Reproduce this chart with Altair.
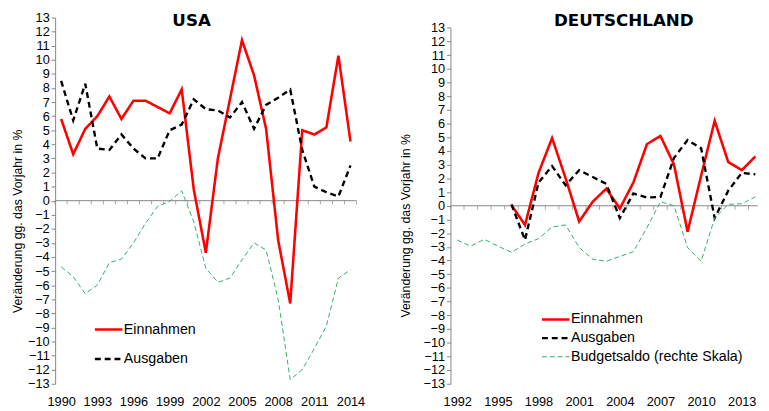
import altair as alt
import pandas as pd

# ---------------- data ----------------
usa_years = list(range(1990, 2015))
usa_einnahmen = [5.8, 3.3, 5.1, 6.0, 7.4, 5.8, 7.1, 7.1, 6.65, 6.2, 7.9, 0.8, -3.7, 3.0, 7.2,
                 11.4, 8.9, 5.1, -2.8, -7.3, 5.0, 4.7, 5.2, 10.3, 4.2]
usa_ausgaben = [8.5, 5.7, 8.3, 3.7, 3.6, 4.7, 3.7, 3.0, 3.0, 5.0, 5.4, 7.2, 6.5, 6.4, 5.9,
                7.0, 5.1, 6.8, 7.3, 7.9, 3.6, 1.0, 0.6, 0.3, 2.5]
usa_saldo = [-4.7, -5.4, -6.6, -6.0, -4.4, -4.15, -3.0, -1.6, -0.4, -0.05, 0.7, -1.5, -4.8, -5.8, -5.5,
             -4.2, -3.0, -3.5, -7.0, -12.7, -12.0, -10.5, -8.9, -5.5, -4.9]

de_years = list(range(1992, 2015))
de_einnahmen = [None, None, None, None, 0.05, -1.4, 2.4, 4.95, 2.0, -1.15, 0.3, 1.25, -0.2,
                1.7, 4.5, 5.1, 3.0, -1.9, 2.2, 6.2, 3.2, 2.6, 3.6]
de_ausgaben = [None, None, None, None, 0.1, -2.5, 1.7, 2.9, 1.5, 2.6, 2.1, 1.6, -0.9,
               0.9, 0.6, 0.65, 3.5, 4.8, 4.2, -0.9, 1.1, 2.4, 2.3]
de_saldo = [-2.5, -2.95, -2.45, -2.95, -3.4, -2.8, -2.4, -1.55, -1.4, -3.05, -3.9, -4.05, -3.7,
            -3.35, -1.6, 0.3, 0.0, -3.05, -4.05, -0.9, 0.1, 0.15, 0.65]

usa_x_labels = [1990, 1993, 1996, 1999, 2002, 2005, 2008, 2011, 2014]
de_x_labels = [1992, 1995, 1998, 2001, 2004, 2007, 2010, 2013]
y_ticks = list(range(-13, 14))

series_usa = ["Einnahmen", "Ausgaben"]
series_de = ["Einnahmen", "Ausgaben", "Budgetsaldo (rechte Skala)"]

# ---------------- styles ----------------
FONT = "Liberation Sans"
TITLE_FONT = "DejaVu Sans"
GRAY = "#868686"
RED = "#ff0000"
BLACK = "#000000"
GREEN = "#2fb064"
Y_TITLE = "Veränderung gg. das Vorjahr in %"


def long_frame(years, names, columns):
    rows = []
    for name, col in zip(names, columns):
        for yr, v in zip(years, col):
            if v is not None:
                rows.append({"Jahr": yr, "Serie": name, "Wert": v})
    return pd.DataFrame(rows)


def boundaries(years, hi):
    b = [y - 0.5 for y in years] + [years[-1] + 0.5]
    b = [v for v in b if v <= hi]
    return pd.DataFrame({"Jahr": b, "Wert": [0] * len(b)})


def panel(title, title_xpos, years, x_labels, x_domain, y_range, width, height,
          lines_df, names, colors, dashes, widths, legend_xy, clip_h, saldo_df,
          title_x, title_y):
    xs = alt.Scale(domain=x_domain, nice=False, zero=False)
    ys = alt.Scale(domain=[-13, 13], nice=False, zero=False, range=y_range)

    x_axis = alt.Axis(values=x_labels, format="d", title=None, domain=False, ticks=False,
                      grid=False, labelFont=FONT, labelFontSize=13, labelColor="black",
                      labelPadding=12, labelFlush=False, labelOverlap=False)
    y_axis = alt.Axis(values=y_ticks, format="d", title=Y_TITLE, grid=False,
                      domainColor=GRAY, tickColor=GRAY, tickSize=4, labelPadding=2,
                      labelFont=FONT, labelFontSize=13, labelColor="black",
                      titleFont=FONT, titleFontSize=12.5, titleFontWeight="normal",
                      titleColor="black", titleX=title_x, titleY=title_y,
                      titleBaseline="middle", titleAngle=270, labelOverlap=False)

    legend = alt.Legend(title=None, orient="none", legendX=legend_xy[0], legendY=legend_xy[1],
                        symbolType="stroke", symbolSize=784, labelFont=FONT,
                        labelFontSize=14.5, labelColor="black", labelOffset=0,
                        rowPadding=2, clipHeight=clip_h, padding=0, labelLimit=300)

    X = alt.X("Jahr:Q", scale=xs, axis=x_axis)
    Y = alt.Y("Wert:Q", scale=ys, axis=y_axis)

    zero_line = alt.Chart(pd.DataFrame({"Wert": [0]})).mark_rule(
        color=GRAY, strokeWidth=1).encode(y=Y, x=alt.value(0), x2=alt.value(width))

    ticks = alt.Chart(boundaries(years, x_domain[1])).mark_tick(
        orient="vertical", size=4, thickness=1, color=GRAY, yOffset=2).encode(x=X, y=Y)

    layers = [zero_line, ticks]

    if saldo_df is not None:
        layers.append(alt.Chart(saldo_df).mark_line(
            color=GREEN, strokeWidth=1, strokeDash=[5, 3]).encode(x=X, y=Y))

    layers.append(alt.Chart(lines_df).mark_line().encode(
        x=X, y=Y,
        color=alt.Color("Serie:N", scale=alt.Scale(domain=names, range=colors), legend=legend),
        strokeDash=alt.StrokeDash("Serie:N", scale=alt.Scale(domain=names, range=dashes), legend=legend),
        strokeWidth=alt.StrokeWidth("Serie:N", scale=alt.Scale(type="ordinal", domain=names, range=widths),
                                    legend=legend),
        order=alt.Order("Jahr:Q"),
    ))

    layers.append(alt.Chart(pd.DataFrame({"Titel": [title]})).mark_text(
        font=TITLE_FONT, fontSize=17, fontWeight="bold", color="black",
        align="center", baseline="alphabetic").encode(
        text="Titel:N", x=alt.value(title_xpos), y=alt.value(8.4)))

    return alt.layer(*layers).properties(width=width, height=height)


usa_lines = long_frame(usa_years, series_usa, [usa_einnahmen, usa_ausgaben])
usa_saldo_df = pd.DataFrame({"Jahr": usa_years, "Wert": usa_saldo})
de_lines = long_frame(de_years, series_de, [de_einnahmen, de_ausgaben, de_saldo])

left = panel("USA", 139, usa_years, usa_x_labels, [1989.5, 2014.5], [373, 0], 307, 373,
             usa_lines, series_usa, [RED, BLACK], [[1, 0], [6, 4]], [2.6, 2.4],
             (39, 303.8), 28, usa_saldo_df, -38, 207)

right = panel("DEUTSCHLAND", 176.5, de_years, de_x_labels, [1991.5, 2014.18], [373, 10.4], 313, 373,
              de_lines, series_de, [RED, BLACK, GREEN], [[1, 0], [6, 4], [5, 3]], [2.6, 2.4, 1],
              (91.7, 299), 17, None, -45.7, 211.7)

chart = alt.hconcat(left, right, spacing=34.7).resolve_scale(
    color="independent", strokeDash="independent", strokeWidth="independent",
    x="independent", y="independent").resolve_legend(
    color="independent", strokeDash="independent", strokeWidth="independent").configure_view(
    stroke=None).properties(padding={"left": 4, "top": 0, "right": 0, "bottom": 0})

chart.save("out.html", embed_options={"renderer": "svg", "actions": False})
